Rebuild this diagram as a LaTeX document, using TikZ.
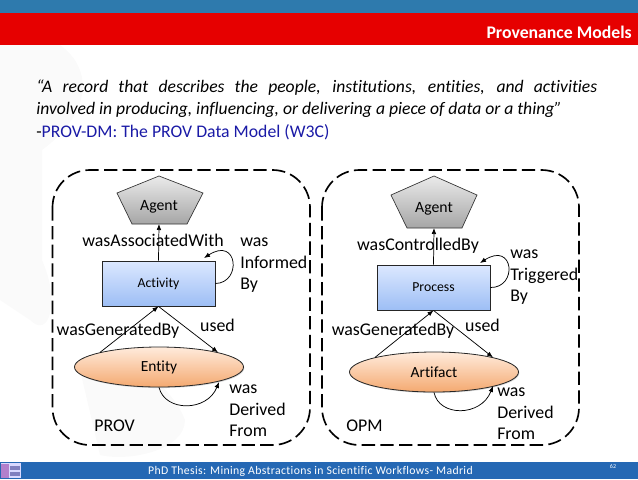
\documentclass[tikz,border=0pt]{standalone}
\usepackage{fontspec}
\setmainfont{Carlito}[Ligatures=NoCommon]
\usetikzlibrary{arrows.meta,shapes.geometric,shadows}
\definecolor{barblue}{HTML}{2E7AAD}
\definecolor{barred}{HTML}{E60000}
\definecolor{footblue}{HTML}{2568B4}
\definecolor{sourceblue}{HTML}{1A1AA6}
\definecolor{classtop}{HTML}{DCE8FF}
\definecolor{classbot}{HTML}{9DBEF5}
\definecolor{blobtop}{HTML}{FFEBDC}
\definecolor{blobbot}{HTML}{F4A970}
\tikzset{
    sloppybox/.style={draw=black,line width=1.25pt,dash pattern=on 10pt off 4pt,rounded corners=28pt},
    pentagon/.style={draw=black!80,line width=0.5pt,top color=black!8,bottom color=black!35},
    classbox/.style={rectangle,draw=black!85,line width=0.6pt,minimum width=84.75pt,minimum height=33.75pt,inner sep=0pt,
        top color=classtop,bottom color=classbot,drop shadow={opacity=0.3,shadow xshift=0.6pt,shadow yshift=-0.8pt},font=\fontsize{10.3}{12}\selectfont},
    blob/.style={ellipse,draw=black!85,line width=0.6pt,minimum width=126.75pt,minimum height=30pt,inner sep=0pt,
        top color=blobtop,bottom color=blobbot,drop shadow={opacity=0.3,shadow xshift=0.6pt,shadow yshift=-0.8pt},font=\fontsize{11.6}{13}\selectfont},
    rel/.style={draw=black,line width=0.55pt,-{Latex[length=4.5pt,width=3.5pt]}},
    tag/.style={font=\fontsize{13.4}{16.1}\selectfont,inner sep=0pt,align=left},
    agenttext/.style={font=\fontsize{11.8}{13}\selectfont,inner sep=0pt}
}
\begin{document}
\begin{tikzpicture}[x=0.75pt,y=-0.75pt]
\useasboundingbox (0,0) rectangle (638,479);

% Faint background
\fill[black!2] (0,45) -- (60,45) .. controls (95,70) and (90,115) .. (42,150) -- (42,260) .. controls (60,300) and (50,340) .. (30,320) -- (0,300) -- cycle;
\fill[black!2] (80,370) .. controls (110,340) and (170,380) .. (185,420) .. controls (185,450) and (130,462) .. (100,455) -- cycle;

% Bars
\fill[barblue] (0,0) rectangle (638,13);
\fill[barred] (0,13) rectangle (638,45);
\fill[footblue] (0,462) rectangle (638,479);
\node[anchor=east,text=white,inner sep=0pt,font=\fontsize{13.3}{15}\selectfont\bfseries] (title) at (632,32) {Provenance Models};

% Logo
\fill[white!85!blue] (1,463) rectangle (21,478);
\fill[red!40!blue!50!white] (1,464) rectangle (9,478);
\fill[blue!50!black!50!white] (10,466) rectangle (20,470);
\fill[blue!50!black!50!white] (10,472) rectangle (20,476);

% Quote
\node[anchor=north west,inner sep=0pt,text width=420.75pt,align=justify,font=\fontsize{13.2}{16.5}\selectfont] (quote) at (36,80)
    {\itshape ``A record that describes the people, institutions, entities, and activities\linebreak involved in producing, influencing, or delivering a piece of data or a thing''};
\node[anchor=west,inner sep=0pt,font=\fontsize{13.3}{15}\selectfont] (source) at (36,132.5) {-\textcolor{sourceblue}{PROV-DM: The PROV Data Model (W3C)}};

% Footer
\node[text=white,inner sep=0pt,font=\fontsize{8.8}{10}\selectfont\addfontfeature{LetterSpace=3}] (foot) at (310.5,471) {PhD Thesis: Mining Abstractions in Scientific Workflows- Madrid};
\node[text=white,inner sep=0pt,font=\fontsize{4.5}{5}\selectfont] (pagenum) at (613,466) {62};

% PROV
\draw[sloppybox] (52.5,170) rectangle (310,445);
\draw[pentagon] (159,176) -- (203,193) -- (187,224) -- (132,224) -- (117,193) -- cycle;
\node[agenttext] (agentl) at (159,207) {Agent};
\coordinate (agentlbase) at (159,224);
\node[classbox] (activity) at (158.5,283.5) {Activity};
\node[blob] (entity) at (159,367) {\raisebox{-1pt}{Entity}};
\coordinate (activityloop) at (204,258);
\coordinate (entityloop) at (219,382);

\draw[rel] (activity.north) -- (agentlbase);
\draw[rel] (entity.166) -- (activity.south);
\draw[rel] (activity.south) -- (entity.14);
\draw[rel] (activity.east) .. controls (242,283) and (238,236) .. (activityloop);
\draw[rel] (entity.south) .. controls (165,412) and (207,412) .. (entityloop);

\node[tag,anchor=center] (assoc) at (153,240) {wasAssociatedWith};
\node[tag,anchor=north west] (informed) at (240,238) {was\\Informed\\By};
\node[tag,anchor=center] (genl) at (118,331) {wasGeneratedBy};
\node[tag,anchor=center] (usedl) at (217.5,325) {used};
\node[tag,anchor=north west] (derivedl) at (229,385) {was\\Derived\\From};
\node[tag,anchor=west] (provname) at (94,426) {PROV};

% OPM
\draw[sloppybox] (322,170) rectangle (579,445);
\draw[pentagon] (434,176) -- (477,195) -- (462,228) -- (407,228) -- (391,195) -- cycle;
\node[agenttext] (agentr) at (434,209) {Agent};
\coordinate (agentrbase) at (434,228);
\node[classbox] (process) at (433.5,287.5) {Process};
\node[blob] (artifact) at (434,372) {Artifact};
\coordinate (processloop) at (480,263);
\coordinate (artifactloop) at (493,386);

\draw[rel] (process.north) -- (agentrbase);
\draw[rel] (artifact.166) -- (process.south);
\draw[rel] (process.south) -- (artifact.14);
\draw[rel] (process.east) .. controls (518,288) and (514,241) .. (processloop);
\draw[rel] (artifact.south) .. controls (439,417) and (481,417) .. (artifactloop);

\node[tag,anchor=center] (control) at (418,246) {wasControlledBy};
\node[tag,anchor=north west] (triggered) at (510,250) {was\\Triggered\\By};
\node[tag,anchor=center] (genr) at (393,331) {wasGeneratedBy};
\node[tag,anchor=center] (usedr) at (482.5,325) {used};
\node[tag,anchor=north west] (derivedr) at (497,388) {was\\Derived\\From};
\node[tag,anchor=west] (opmname) at (346,426) {OPM};
\end{tikzpicture}
\end{document}
